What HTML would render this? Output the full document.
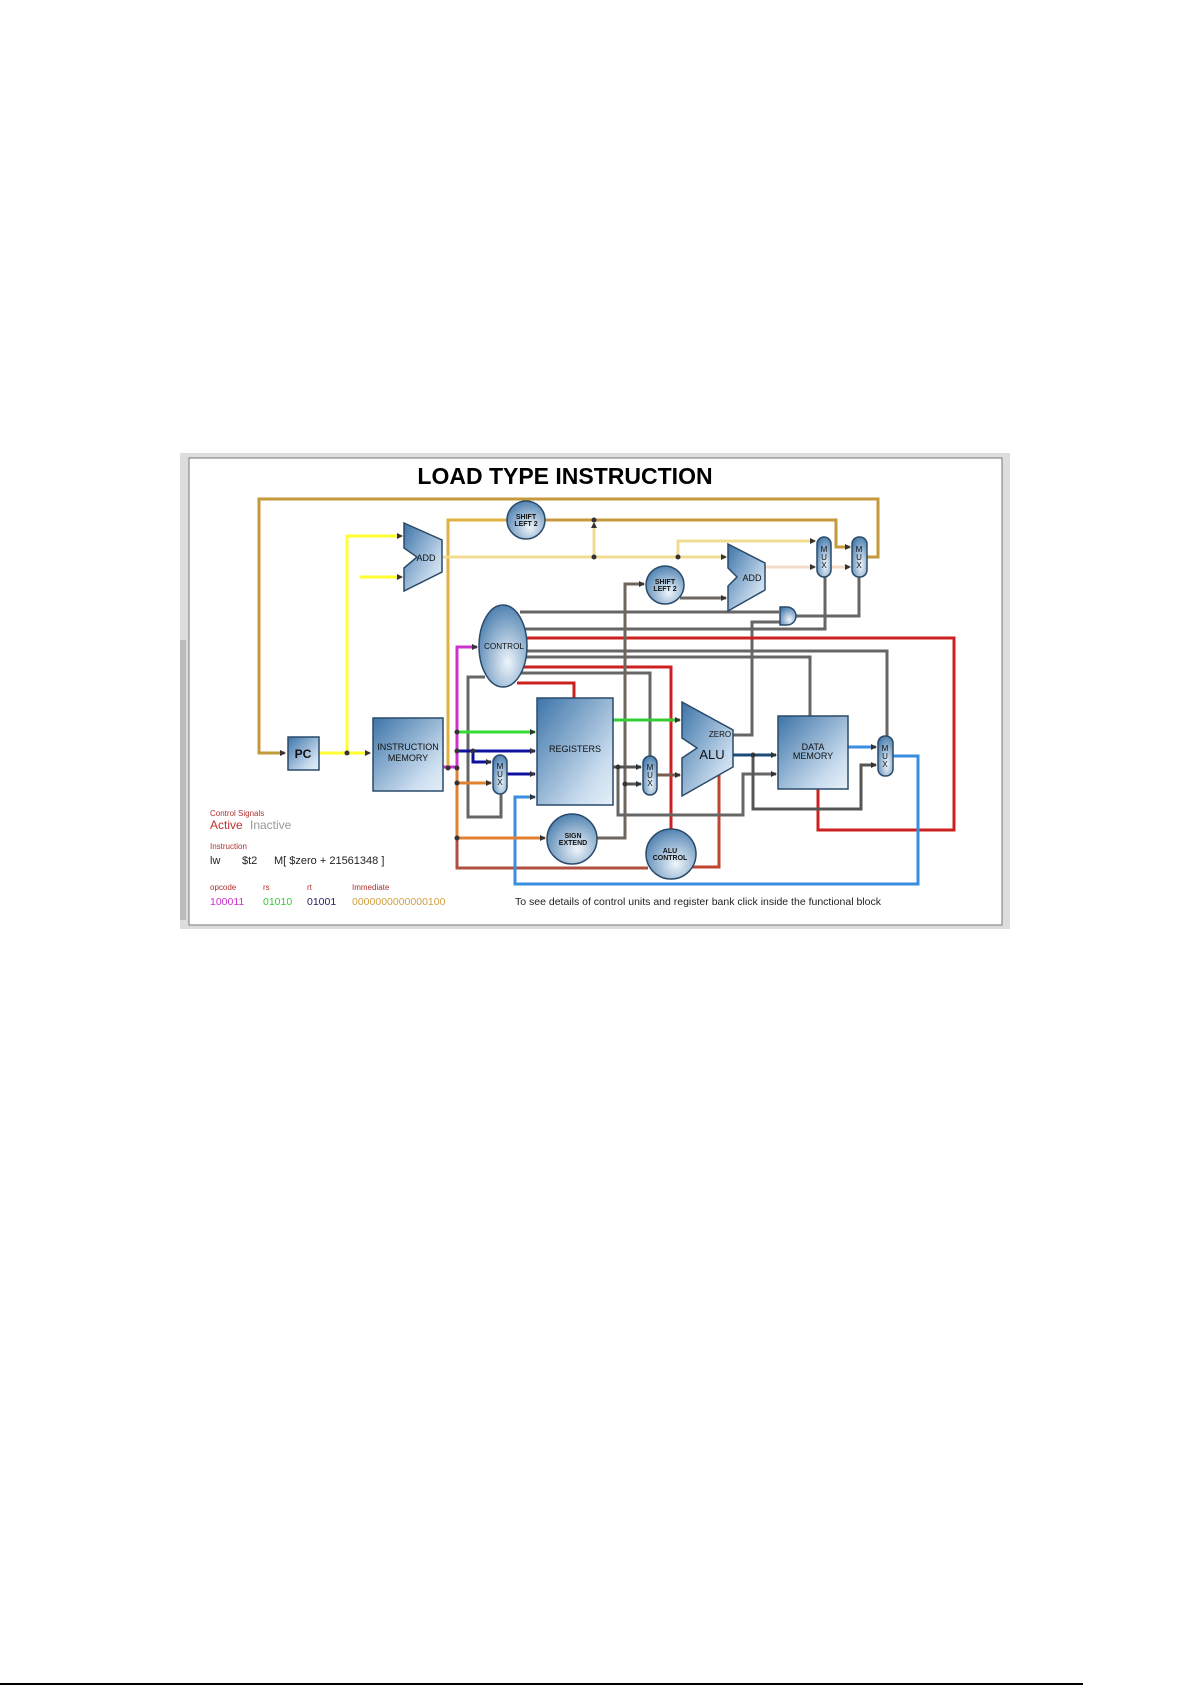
<!DOCTYPE html>
<html><head><meta charset="utf-8"><style>
html,body{margin:0;padding:0;background:#fff;}
svg{display:block;}
text{font-family:"Liberation Sans",sans-serif;}
</style></head><body>
<svg width="1192" height="1685" viewBox="0 0 1192 1685" xmlns="http://www.w3.org/2000/svg">
<defs>
<linearGradient id="g" x1="0" y1="0" x2="1" y2="1"><stop offset="0" stop-color="#3d74a8"/><stop offset="0.75" stop-color="#c9dcee"/><stop offset="1" stop-color="#e6f0f8"/></linearGradient>
<radialGradient id="rg" cx="0.6" cy="0.7" r="0.8"><stop offset="0" stop-color="#eef5fb"/><stop offset="1" stop-color="#3d74a8"/></radialGradient>
<marker id="a" markerWidth="6" markerHeight="6" refX="5" refY="3" orient="auto" markerUnits="userSpaceOnUse"><path d="M0,0 L6,3 L0,6 z" fill="#333"/></marker>
</defs>
<rect x="0" y="1683" width="1083" height="2" fill="#000"/>
<rect x="180" y="453" width="830" height="476" fill="#ddd"/>
<rect x="189" y="458" width="813" height="467" fill="#fff" stroke="#777" stroke-width="1"/>
<rect x="180" y="640" width="6" height="280" fill="#bbb"/>
<text x="565" y="484" font-size="23" font-weight="bold" text-anchor="middle" fill="#000">LOAD TYPE INSTRUCTION</text>
<g fill="none" stroke-width="3" stroke-linejoin="miter">
<polyline points="867,557 878,557 878,499 259,499 259,753 285,753" stroke="#c49a3c" marker-end="url(#a)"/>
<polyline points="448,768 448,520 507,520" stroke="#e0b040"/>
<polyline points="545,520 836,520 836,547 850,547" stroke="#c49a3c" marker-end="url(#a)"/>
<polyline points="319,753 370,753" stroke="#ffff33" marker-end="url(#a)"/>
<polyline points="347,753 347,536 402,536" stroke="#ffff33" marker-end="url(#a)"/>
<polyline points="360,577 402,577" stroke="#ffff33" marker-end="url(#a)"/>
<polyline points="442,557 726,557" stroke="#f0dc90" marker-end="url(#a)"/>
<polyline points="594,557 594,523" stroke="#f0dc90" marker-end="url(#a)"/>
<polyline points="678,557 678,541 815,541" stroke="#f0dc90" marker-end="url(#a)"/>
<polyline points="765,567 815,567" stroke="#f4dcc8" marker-end="url(#a)"/>
<polyline points="831,567 850,567" stroke="#f4dcc8" marker-end="url(#a)"/>
<polyline points="520,612 779,612" stroke="#666"/>
<polyline points="524,629 825,629 825,577" stroke="#666"/>
<polyline points="526,651 887,651 887,736" stroke="#666"/>
<polyline points="526,657 810,657 810,716" stroke="#666"/>
<polyline points="520,673 650,673 650,756" stroke="#666"/>
<polyline points="485,677 468,677 468,817 501,817 501,794" stroke="#666"/>
<polyline points="793,616 859,616 859,577" stroke="#666"/>
<polyline points="733,735 752,735 752,622 780,622" stroke="#666"/>
<polyline points="526,638 954,638 954,830 818,830 818,789" stroke="#cc2020"/>
<polyline points="522,667 671,667 671,829" stroke="#cc2020"/>
<polyline points="517,683 574,683 574,698" stroke="#cc2020"/>
<polyline points="692,867 719,867 719,773" stroke="#c04530"/>
<polyline points="457,838 457,868 648,868" stroke="#b05040"/>
<polyline points="597,838 625,838 625,584 644,584" stroke="#6e665e" marker-end="url(#a)"/>
<polyline points="680,598 726,598" stroke="#6e665e" marker-end="url(#a)"/>
<polyline points="613,767 641,767" stroke="#555" marker-end="url(#a)"/>
<polyline points="625,784 641,784" stroke="#555" marker-end="url(#a)"/>
<polyline points="618,767 618,815 743,815 743,774 776,774" stroke="#666" marker-end="url(#a)"/>
<polyline points="657,775 680,775" stroke="#7a5a4a" marker-end="url(#a)"/>
<polyline points="613,720 680,720" stroke="#33cc33" marker-end="url(#a)"/>
<polyline points="457,732 535,732" stroke="#33dd33" marker-end="url(#a)"/>
<polyline points="733,755 776,755" stroke="#1a4a7a" marker-end="url(#a)"/>
<polyline points="753,755 753,809 861,809 861,765 876,765" stroke="#555" marker-end="url(#a)"/>
<polyline points="457,751 535,751" stroke="#1010a0" marker-end="url(#a)"/>
<polyline points="473,751 473,762 491,762" stroke="#1010a0" marker-end="url(#a)"/>
<polyline points="507,774 535,774" stroke="#1010a0" marker-end="url(#a)"/>
<polyline points="848,747 876,747" stroke="#3a8ee0" marker-end="url(#a)"/>
<polyline points="893,756 918,756 918,884 515,884 515,797 535,797" stroke="#3a8ee0" marker-end="url(#a)"/>
<polyline points="457,768 457,838 545,838" stroke="#e08030" marker-end="url(#a)"/>
<polyline points="457,783 491,783" stroke="#e08030" marker-end="url(#a)"/>
<polyline points="443,767 457,767 457,647 477,647" stroke="#cc33cc" marker-end="url(#a)"/>
</g>
<g fill="#333">
<circle cx="347" cy="753" r="2.5"/><circle cx="594" cy="557" r="2.5"/><circle cx="678" cy="557" r="2.5"/><circle cx="594" cy="520" r="2.5"/>
<circle cx="457" cy="732" r="2.5"/><circle cx="457" cy="751" r="2.5"/><circle cx="473" cy="751" r="2.5"/><circle cx="457" cy="768" r="2.5"/><circle cx="457" cy="783" r="2.5"/><circle cx="457" cy="838" r="2.5"/><circle cx="448" cy="768" r="2.5"/>
<circle cx="618" cy="767" r="2.5"/><circle cx="625" cy="784" r="2.5"/><circle cx="753" cy="755" r="2.5"/>
</g>
<g stroke="#2a4a6a" stroke-width="1.5">
<rect x="288" y="737" width="31" height="33" fill="url(#g)"/>
<rect x="373" y="718" width="70" height="73" fill="url(#g)"/>
<rect x="537" y="698" width="76" height="107" fill="url(#g)"/>
<rect x="778" y="716" width="70" height="73" fill="url(#g)"/>
<polygon points="404,523 442,540 442,572 404,591 404,568 417,557 404,548" fill="url(#g)"/>
<polygon points="728,544 765,563 765,590 728,611 728,586 737,577 728,568" fill="url(#g)"/>
<polygon points="682,702 733,730 733,767 682,796 682,758 697,748 682,738" fill="url(#g)"/>
<ellipse cx="503" cy="646" rx="24" ry="41" fill="url(#rg)"/>
<circle cx="526" cy="520" r="19" fill="url(#rg)"/>
<circle cx="665" cy="585" r="19" fill="url(#rg)"/>
<circle cx="572" cy="839" r="25" fill="url(#rg)"/>
<circle cx="671" cy="854" r="25" fill="url(#rg)"/>
<rect x="817" y="537" width="14" height="40" rx="7" fill="url(#rg)"/>
<rect x="852" y="537" width="15" height="40" rx="7" fill="url(#rg)"/>
<rect x="493" y="755" width="14" height="39" rx="7" fill="url(#rg)"/>
<rect x="643" y="756" width="14" height="39" rx="7" fill="url(#rg)"/>
<rect x="878" y="736" width="15" height="40" rx="7" fill="url(#rg)"/>
<path d="M780,607 L787,607 A9,9 0 0 1 787,625 L780,625 Z" fill="url(#rg)"/>
</g>
<g font-size="9" fill="#111" text-anchor="middle">
<text x="303" y="758" font-size="12" font-weight="bold">PC</text>
<text x="408" y="750">INSTRUCTION</text><text x="408" y="761">MEMORY</text>
<text x="575" y="752">REGISTERS</text>
<text x="813" y="750">DATA</text><text x="813" y="759">MEMORY</text>
<text x="426" y="561">ADD</text><text x="752" y="581">ADD</text>
<text x="720" y="737" font-size="8">ZERO</text>
<text x="712" y="759" font-size="13">ALU</text>
<text x="504" y="649" font-size="8" textLength="40" lengthAdjust="spacingAndGlyphs">CONTROL</text>
<g font-size="7" font-weight="bold"><text x="526" y="519">SHIFT</text><text x="526" y="526">LEFT 2</text>
<text x="665" y="584">SHIFT</text><text x="665" y="591">LEFT 2</text>
<text x="573" y="838">SIGN</text><text x="573" y="845">EXTEND</text>
<text x="670" y="853">ALU</text><text x="670" y="860">CONTROL</text></g>
<g font-size="8"><text x="824" y="552">M</text><text x="824" y="560">U</text><text x="824" y="568">X</text>
<text x="859" y="552">M</text><text x="859" y="560">U</text><text x="859" y="568">X</text>
<text x="500" y="769">M</text><text x="500" y="777">U</text><text x="500" y="785">X</text>
<text x="650" y="770">M</text><text x="650" y="778">U</text><text x="650" y="786">X</text>
<text x="885" y="751">M</text><text x="885" y="759">U</text><text x="885" y="767">X</text></g>
</g>
<g font-size="8" fill="#b03030"><text x="210" y="816">Control Signals</text><text x="210" y="849">Instruction</text>
<text x="210" y="890">opcode</text><text x="263" y="890">rs</text><text x="307" y="890">rt</text><text x="352" y="890">Immediate</text></g>
<text x="210" y="829" font-size="12" fill="#c03030">Active</text>
<text x="250" y="829" font-size="12" fill="#999">Inactive</text>
<text x="210" y="864" font-size="11" fill="#222">lw</text><text x="242" y="864" font-size="11" fill="#222">$t2</text><text x="274" y="864" font-size="11" fill="#222">M[ $zero + 21561348 ]</text>
<g font-size="10.5"><text x="210" y="905" fill="#cc33cc">100011</text><text x="263" y="905" fill="#33cc33">01010</text><text x="307" y="905" fill="#222266">01001</text><text x="352" y="905" fill="#d0a040">0000000000000100</text></g>
<text x="515" y="905" font-size="10.5" fill="#222">To see details of control units and register bank click inside the functional block</text>
</svg>
</body></html>
